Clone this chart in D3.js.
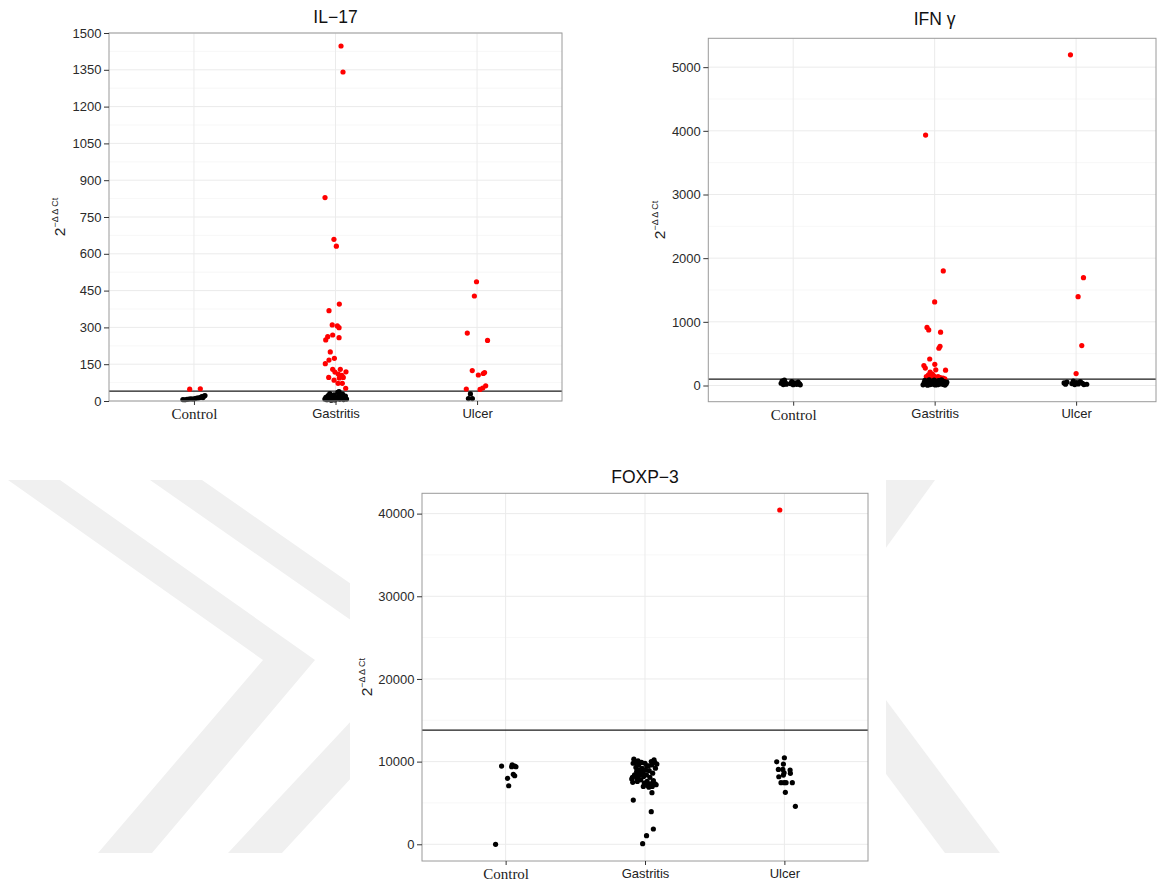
<!DOCTYPE html>
<html>
<head>
<meta charset="utf-8">
<script src="https://cdn.jsdelivr.net/npm/d3@7"></script>
<style>
  body { margin: 0; background: #fff; }
  svg { display: block; font-family: "Liberation Sans", Arial, sans-serif; }
</style>
</head>
<body>
<svg id="fig" width="1157" height="882"></svg>
<script>
var groups = ["Control", "Gastritis", "Ulcer"];

// ---- IL-17 ----
var il17_cut = 40;
var il17_ticks = [0, 150, 300, 450, 600, 750, 900, 1050, 1200, 1350, 1500];
var il17_minor = [75, 225, 375, 525, 675, 825, 975, 1125, 1275, 1425];
var il17_control_v = [48, 50, 6, 5, 7, 8, 9, 8, 10, 12, 13, 15, 18, 20, 22, 14];
var il17_control_j = [-0.03, 0.045, -0.078, -0.064, -0.049, -0.035, -0.021, -0.007, 0.007, 0.021, 0.035, 0.049, 0.056, 0.071, 0.078, 0.064];
var il17_gastritis_v = [1447, 1341, 829, 659, 631, 395, 368, 310, 306, 299, 249, 262, 269, 258, 200,
  174, 167, 152, 129, 129, 118, 119, 96, 94, 96, 72, 72, 52, 85, 105, 110,
  8, 15, 5, 22, 10, 30, 6, 18, 12, 25, 4, 14, 9, 35, 20, 7, 16, 11, 28, 6, 13, 20, 8, 38, 3, 24];
var il17_gastritis_j = [0.039, 0.053, -0.074, -0.011, 0.006, 0.027, -0.046, -0.023, 0.013, 0.025, -0.069, -0.055, -0.020, 0.025, -0.037,
  -0.008, -0.046, -0.072, -0.020, 0.034, -0.004, 0.074, -0.048, 0.027, 0.055, 0.018, 0.048, 0.072, -0.01, 0.045, 0.02,
  -0.075, -0.068, -0.06, -0.052, -0.045, -0.04, -0.032, -0.025, -0.018, -0.01, -0.004, 0.003, 0.01, 0.016, 0.022,
  0.03, 0.036, 0.042, 0.05, 0.057, 0.064, 0.07, 0.078, 0.025, -0.03, 0.045];
var il17_ulcer_v = [486, 428, 277, 247, 124, 106, 112, 116, 49, 47, 53, 62, 29, 10, 10];
var il17_ulcer_j = [-0.004, -0.019, -0.069, 0.074, -0.034, 0.009, 0.044, 0.053, -0.076, 0.021, 0.040, 0.061, -0.047, -0.061, -0.033];

// ---- IFN gamma ----
var ifn_cut = 100;
var ifn_ticks = [0, 1000, 2000, 3000, 4000, 5000];
var ifn_minor = [500, 1500, 2500, 3500, 4500];
var ifn_control_v = [35, 70, 15, 85, 45, 20, 30, 60, 12, 40, 18, 55, 25, 10];
var ifn_control_j = [-0.085, -0.078, -0.07, -0.062, -0.055, -0.048, -0.02, -0.01, 0.0, 0.012, 0.025, 0.035, 0.045, 0.05];
var ifn_gastritis_v = [3934, 1800, 1312, 912, 873, 837, 615, 585, 416, 313, 273, 332, 246, 241, 212, 168, 141, 141, 125, 116, 180, 150, 110, 105,
  10, 45, 80, 25, 60, 5, 35, 90, 15, 50, 70, 20, 40, 85, 8, 30, 65, 12, 55, 75, 22, 48, 88, 18, 38, 62, 6, 28, 52, 78];
var ifn_gastritis_j = [-0.064, 0.061, 0, -0.054, -0.042, 0.042, 0.038, 0.030, -0.035, -0.076, -0.066, 0.001, 0.008, 0.077, -0.032, -0.044, -0.059, 0.024, 0.040, 0.059, -0.016, -0.006, -0.027, 0.072,
  -0.082, -0.074, -0.069, -0.061, -0.057, -0.05, -0.047, -0.039, -0.033, -0.029, -0.02, -0.017, -0.009, -0.003, 0.004, 0.007, 0.015, 0.021, 0.024, 0.033, 0.036, 0.046, 0.049, 0.058, 0.061, 0.069, 0.073, 0.081, 0.086, 0.028];
var ifn_ulcer_v = [5194, 1693, 1395, 627, 188, 40, 20, 55, 30, 70, 15, 45, 25, 60, 35, 15, 20];
var ifn_ulcer_j = [-0.040, 0.052, 0.014, 0.040, 0.0, -0.085, -0.075, -0.065, -0.03, -0.02, -0.01, 0.005, 0.015, 0.03, 0.045, 0.055, 0.075];

// ---- FOXP-3 ----
var foxp_cut = 13800;
var foxp_ticks = [0, 10000, 20000, 30000, 40000];
var foxp_minor = [5000, 15000, 25000, 35000];
var foxp_control_v = [9462, 9620, 9462, 9380, 9380, 8459, 8290, 7975, 7080, 0];
var foxp_control_j = [-0.029, 0.047, 0.065, 0.074, 0.043, 0.055, 0.065, 0.014, 0.022, -0.072];
var foxp_gastritis_v = [5350, 6240, 3940, 1850, 1040, 70,
  10300, 9800, 8100, 7900, 7500, 9900, 9300, 8800, 8000, 7600, 10100, 9600, 9000, 8500, 7800,
  9900, 9200, 8700, 8200, 7400, 9800, 9000, 8400, 7600, 7100, 9500, 8900, 8100, 7300, 10000,
  9600, 8600, 7700, 10200, 9900, 7300, 9200, 7200, 9700, 8400, 7000, 6900, 7000, 8300, 9500];
var foxp_gastritis_j = [-0.084, 0.050, 0.045, 0.060, 0.011, -0.017,
  -0.08, -0.085, -0.09, -0.095, -0.088, -0.07, -0.065, -0.06, -0.058, -0.055, -0.05, -0.045, -0.04, -0.035, -0.03,
  -0.025, -0.02, -0.015, -0.01, -0.005, 0.0, 0.005, 0.01, 0.015, 0.02, 0.025, 0.03, 0.035, 0.04, 0.045,
  0.05, 0.055, 0.06, 0.065, 0.07, 0.072, 0.075, 0.08, 0.085, -0.075, -0.012, 0.028, 0.052, -0.045, 0.012];
var foxp_ulcer_v = [40435, 9980, 10470, 9700, 9060, 9060, 8650, 8980, 8580, 8170, 8370, 7450, 7450, 7450, 7450, 6280, 4590];
var foxp_ulcer_j = [-0.033, -0.055, 0, -0.007, -0.043, -0.011, -0.002, 0.041, 0.043, -0.040, -0.007, -0.024, -0.002, 0.012, 0.057, 0.007, 0.079];

var svg = d3.select("#fig");

// background watermark (two chevrons on the left, one on the right)
var wm = [
  [[8, 480], [60, 480], [315, 660], [152, 853], [98, 853], [263, 660]],
  [[150, 480], [202, 480], [460, 660], [282, 853], [228, 853], [408, 660]],
  [[886, 480], [935, 480], [830, 625], [1000, 853], [945, 853], [775, 625]]
];
svg.selectAll(".wm").data(wm).enter().append("polygon")
  .attr("class", "wm")
  .attr("points", function (d) { return d.map(function (p) { return p.join(","); }).join(" "); })
  .attr("fill", "#f0f0f0");
svg.append("rect").attr("x", 350).attr("y", 440).attr("width", 536).attr("height", 442).attr("fill", "#fff");

function rows(vals, jits, cut) {
  var out = [];
  groups.forEach(function (gname, gi) {
    vals[gi].forEach(function (v, i) {
      out.push({ g: gname, v: v, j: jits[gi][i], hi: v > cut });
    });
  });
  return out;
}

function expand(all) {
  var e = d3.extent(all), r = e[1] - e[0];
  return [e[0] - r * 0.05, e[1] + r * 0.05];
}

function panel(p) {
  var g = svg.append("g");
  var x = d3.scalePoint().domain(groups).range([p.left, p.right]).padding(0.6);
  var y = d3.scaleLinear().domain(p.domain).range([p.bottom, p.top]);
  var rightEdge = Math.min(p.right, 1156);

  g.append("rect")
    .attr("x", p.left).attr("y", p.top)
    .attr("width", rightEdge - p.left).attr("height", p.bottom - p.top)
    .attr("fill", "#fff");

  g.selectAll(".minor").data(p.minor).enter().append("line")
    .attr("x1", p.left).attr("x2", rightEdge)
    .attr("y1", function (d) { return y(d); }).attr("y2", function (d) { return y(d); })
    .attr("stroke", "#f5f5f5").attr("stroke-width", 0.8);

  g.selectAll(".major").data(p.ticks).enter().append("line")
    .attr("x1", p.left).attr("x2", rightEdge)
    .attr("y1", function (d) { return y(d); }).attr("y2", function (d) { return y(d); })
    .attr("stroke", "#ebebeb").attr("stroke-width", 1);

  g.selectAll(".vgrid").data(groups).enter().append("line")
    .attr("x1", function (d) { return x(d); }).attr("x2", function (d) { return x(d); })
    .attr("y1", p.top).attr("y2", p.bottom)
    .attr("stroke", "#ebebeb").attr("stroke-width", 1);

  g.append("line")
    .attr("x1", p.left).attr("x2", rightEdge)
    .attr("y1", y(p.cut)).attr("y2", y(p.cut))
    .attr("stroke", "#1a1a1a").attr("stroke-width", 1.3);

  var pts = p.data.slice().sort(function (a, b) { return b.hi - a.hi; });
  g.selectAll(".pt").data(pts).enter().append("circle")
    .attr("cx", function (d) { return x(d.g) + d.j * x.step(); })
    .attr("cy", function (d) { return y(d.v); })
    .attr("r", 2.6)
    .attr("fill", function (d) { return d.hi ? "#ff0000" : "#000000"; });

  g.append("rect")
    .attr("x", p.left).attr("y", p.top)
    .attr("width", rightEdge - p.left).attr("height", p.bottom - p.top)
    .attr("fill", "none").attr("stroke", "#9a9a9a").attr("stroke-width", 1);

  var ya = g.append("g")
    .attr("transform", "translate(" + p.left + ",0)")
    .call(d3.axisLeft(y).tickValues(p.ticks).tickSize(5).tickPadding(2.5).tickFormat(d3.format("d")));
  ya.attr("font-size", 13).attr("font-family", "Liberation Sans, Arial, sans-serif");
  ya.select(".domain").remove();
  ya.selectAll("line").attr("stroke", "#333");
  ya.selectAll("text").attr("fill", "#2a2a2a");

  var xa = g.append("g")
    .attr("transform", "translate(0," + p.bottom + ")")
    .call(d3.axisBottom(x).tickSize(4).tickPadding(3.5));
  xa.attr("font-size", 13).attr("font-family", "Liberation Sans, Arial, sans-serif");
  xa.select(".domain").remove();
  xa.selectAll("line").attr("stroke", "#333");
  xa.selectAll("text").attr("fill", "#222")
    .filter(function (d) { return d === "Control"; })
    .attr("font-family", "Liberation Serif, Times New Roman, serif")
    .attr("font-size", 15);

  g.append("text")
    .attr("x", (p.left + p.right) / 2).attr("y", p.titleY)
    .attr("text-anchor", "middle")
    .attr("font-size", 17.5).attr("fill", "#111")
    .text(p.title);

  var lab = g.append("text")
    .attr("transform", "translate(" + p.labX + "," + ((p.top + p.bottom) / 2) + ") rotate(-90)")
    .attr("text-anchor", "middle").attr("fill", "#222");
  lab.append("tspan").attr("font-size", 15.5).text("2");
  lab.append("tspan").attr("font-size", 9).attr("dy", -7).text("\u2212\u0394 \u0394 Ct");
}

var il17 = rows([il17_control_v, il17_gastritis_v, il17_ulcer_v], [il17_control_j, il17_gastritis_j, il17_ulcer_j], il17_cut);
var ifn = rows([ifn_control_v, ifn_gastritis_v, ifn_ulcer_v], [ifn_control_j, ifn_gastritis_j, ifn_ulcer_j], ifn_cut);
var foxp = rows([foxp_control_v, foxp_gastritis_v, foxp_ulcer_v], [foxp_control_j, foxp_gastritis_j, foxp_ulcer_j], foxp_cut);

panel({ title: "IL\u221217", data: il17, cut: il17_cut, ticks: il17_ticks, minor: il17_minor,
  domain: [0, 1500], left: 109, right: 562, top: 33, bottom: 401, titleY: 23, labX: 65 });

panel({ title: "IFN \u03b3", data: ifn, cut: ifn_cut, ticks: ifn_ticks, minor: ifn_minor,
  domain: expand(ifn.map(function (d) { return d.v; })),
  left: 708.3, right: 1161, top: 38.3, bottom: 401.7, titleY: 25, labX: 665 });

panel({ title: "FOXP\u22123", data: foxp, cut: foxp_cut, ticks: foxp_ticks, minor: foxp_minor,
  domain: expand(foxp.map(function (d) { return d.v; })),
  left: 422, right: 868, top: 493.3, bottom: 861, titleY: 483, labX: 372 });
</script>
</body>
</html>
